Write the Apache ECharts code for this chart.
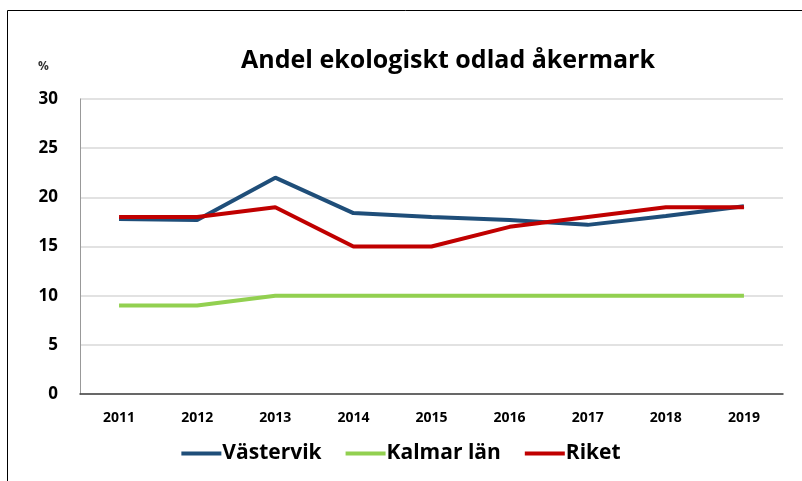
<!DOCTYPE html>
<html><head><meta charset="utf-8">
<script src="https://cdn.jsdelivr.net/npm/echarts@6/dist/echarts.min.js"></script>
<style>html,body{margin:0;padding:0;background:#fff}#c{width:802px;height:481px}</style>
</head><body><div id="c"></div>
<script>
const years = ['2011','2012','2013','2014','2015','2016','2017','2018','2019'];
const vastervik = [17.8, 17.7, 22.0, 18.4, 18.0, 17.7, 17.2, 18.1, 19.1];
const kalmar = [9, 9, 10, 10, 10, 10, 10, 10, 10];
const riket = [18, 18, 19, 15, 15, 17, 18, 19, 19];
const F = '"Liberation Sans Narrow","Open Sans",sans-serif';
const chart = echarts.init(document.getElementById('c'));
chart.setOption({
  animation: false,
  graphic: [{type:'rect', shape:{x:7.5,y:10.5,width:900,height:600}, style:{fill:'none',stroke:'#000',lineWidth:1}},
            {type:'text', left:38, top:61, style:{text:'%', font:'bold 12px '+F, fill:'#333'}}],
  title: {text:'Andel ekologiskt odlad åkermark', left:443, textAlign:'center', top:43,
    textStyle:{fontFamily:F, fontWeight:'bold', fontSize:25, color:'#000'}},
  grid: {left:80, right:19, top:99, bottom:87},
  legend: {bottom:12, left:'center', itemWidth:40, itemHeight:4, itemGap:24, icon:'rect',
    textStyle:{fontFamily:F, fontWeight:'bold', fontSize:21, color:'#000', padding:[0,0,0,-4]}},
  xAxis: {type:'category', data:years, boundaryGap:true,
    axisLine:{lineStyle:{color:'#404040', width:1.5}}, axisTick:{show:false},
    axisLabel:{fontFamily:F, fontWeight:'bold', fontSize:14, color:'#000', margin:17}},
  yAxis: {type:'value', min:0, max:30, interval:5,
    axisLine:{show:true, lineStyle:{color:'#999'}}, axisTick:{show:false},
    splitLine:{lineStyle:{color:'#d9d9d9', width:1.5}},
    axisLabel:{fontFamily:F, fontWeight:'bold', fontSize:17, color:'#000', margin:22}},
  series: [
    {name:'Västervik', type:'line', data:vastervik, symbol:'none', lineStyle:{width:4, color:'#1F4E79'}, itemStyle:{color:'#1F4E79'}},
    {name:'Kalmar län', type:'line', data:kalmar, symbol:'none', lineStyle:{width:4, color:'#92D050'}, itemStyle:{color:'#92D050'}},
    {name:'Riket', type:'line', data:riket, symbol:'none', lineStyle:{width:4, color:'#C00000'}, itemStyle:{color:'#C00000'}}
  ]
});
</script></body></html>
